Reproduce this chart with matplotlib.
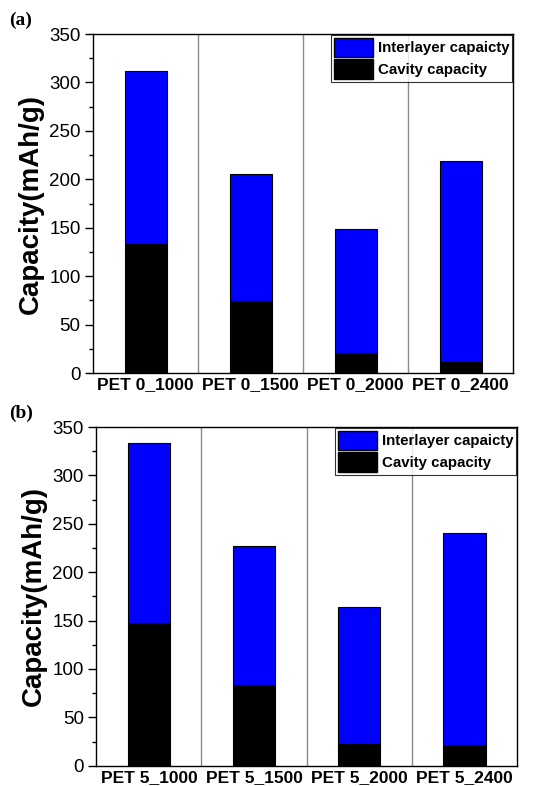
import matplotlib
matplotlib.use("Agg")
import matplotlib.pyplot as plt
from matplotlib.ticker import MultipleLocator
from matplotlib.patches import Patch

labels_a = ["PET 0_1000", "PET 0_1500", "PET 0_2000", "PET 0_2400"]
cavity_a = [133, 74, 21, 11]
interlayer_a = [179, 131, 128, 208]

labels_b = ["PET 5_1000", "PET 5_1500", "PET 5_2000", "PET 5_2400"]
cavity_b = [148, 83, 22, 21]
interlayer_b = [186, 144, 142, 220]

panel_names = ["(a)", "(b)"]

plt.rcParams['font.family'] = ['Liberation Sans', 'DejaVu Sans']

fig = plt.figure(figsize=(5.34, 7.86), dpi=100)
axes_pos = [[0.1742, 0.5254, 0.7865, 0.4313],
            [0.1803, 0.0258, 0.7880, 0.4309]]
label_pos = [(0.018, 0.985), (0.018, 0.485)]

for i, (labels, cav, inter) in enumerate([(labels_a, cavity_a, interlayer_a),
                                          (labels_b, cavity_b, interlayer_b)]):
    ax = fig.add_axes(axes_pos[i])
    x = list(range(1, len(labels) + 1))
    ax.bar(x, cav, width=0.4, color="black", edgecolor="black", linewidth=0.8, zorder=3)
    ax.bar(x, inter, bottom=cav, width=0.4, color="#0000FF", edgecolor="black",
           linewidth=0.8, zorder=3)
    for s in [1.5, 2.5, 3.5]:
        ax.axvline(s, color="#8c8c8c", linewidth=1.0, zorder=1)
    ax.set_xlim(0.5, 4.5)
    ax.set_ylim(0, 350)
    ax.set_xticks(x)
    ax.set_xticklabels(labels, fontsize=12.5, fontweight="bold")
    ax.tick_params(axis="x", length=0, pad=3)
    ax.yaxis.set_major_locator(MultipleLocator(50))
    ax.yaxis.set_minor_locator(MultipleLocator(25))
    ax.tick_params(axis="y", which="major", direction="out", length=6, width=1,
                   labelsize=13.5, pad=3)
    ax.tick_params(axis="y", which="minor", direction="out", length=3, width=1)
    ax.set_ylabel("Capacity(mAh/g)", fontsize=20, fontweight="bold", labelpad=4)
    for sp in ax.spines.values():
        sp.set_linewidth(1.0)
        sp.set_color("black")
    handles = [Patch(facecolor="#0000FF", edgecolor="black", label="Interlayer capaicty"),
               Patch(facecolor="black", edgecolor="black", label="Cavity capacity")]
    leg = ax.legend(handles=handles, loc="upper right",
                    prop={"weight": "bold", "size": 10.8},
                    frameon=True, fancybox=False, edgecolor="black",
                    borderpad=0.2, handlelength=2.6, handleheight=1.6,
                    handletextpad=0.3, labelspacing=0.15, borderaxespad=0.05)
    leg.get_frame().set_linewidth(0.8)
    fig.text(label_pos[i][0], label_pos[i][1], panel_names[i], fontsize=14,
             fontweight="bold", family="Liberation Serif", va="top", ha="left")

fig.savefig("out.png", dpi=100)
